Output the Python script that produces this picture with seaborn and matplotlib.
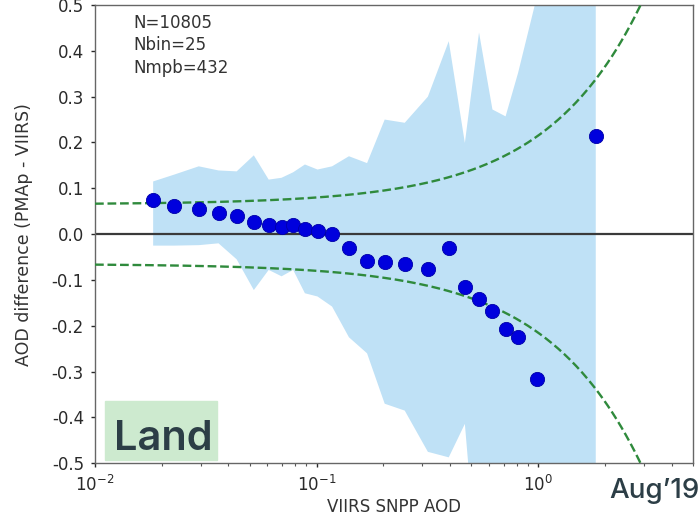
import numpy as np
import pandas as pd
import matplotlib
matplotlib.use("Agg")
import matplotlib.pyplot as plt
from matplotlib.patches import Rectangle
from matplotlib.ticker import FixedLocator, FormatStrFormatter
import seaborn as sns

# Binned AOD comparison (bin centres on VIIRS AOD)
viirs_aod = [0.0183, 0.0228, 0.0294, 0.0361, 0.0436, 0.0521, 0.0608, 0.0695,
             0.0784, 0.0886, 0.101, 0.1175, 0.140, 0.169, 0.203, 0.250,
             0.318, 0.395, 0.467, 0.541, 0.622, 0.713, 0.812, 0.989, 1.82]
aod_diff = [0.074, 0.062, 0.054, 0.047, 0.039, 0.027, 0.019, 0.016,
            0.021, 0.012, 0.007, 0.000, -0.031, -0.058, -0.060, -0.066,
            -0.077, -0.031, -0.115, -0.142, -0.167, -0.208, -0.224, -0.315, 0.215]
# spread of the differences within each bin
band_upper = [0.115, 0.130, 0.148, 0.139, 0.137, 0.172, 0.119, 0.123,
              0.135, 0.152, 0.141, 0.148, 0.170, 0.155, 0.250, 0.243,
              0.300, 0.421, 0.199, 0.440, 0.272, 0.257, 0.352, 0.52, 1.6]
band_lower = [-0.025, -0.025, -0.024, -0.020, -0.055, -0.122, -0.078, -0.092,
              -0.078, -0.129, -0.136, -0.158, -0.225, -0.260, -0.370, -0.385,
              -0.475, -0.487, -0.414, -0.78, -0.70, -0.80, -0.85, -0.95, -1.3]

n_total = 10805
n_bin = 25
n_mpb = 432

# expected-error envelope: +/-(offset + slope * AOD)
ee_offset = 0.065
ee_slope = 0.15

y_ticks = [-0.5, -0.4, -0.3, -0.2, -0.1, 0.0, 0.1, 0.2, 0.3, 0.4, 0.5]

sns.set_theme(style="ticks")
plt.rcParams['font.family'] = ['DejaVu Sans']
plt.rcParams['axes.unicode_minus'] = True

fig = plt.figure(figsize=(7.0, 5.17), dpi=100)
ax = fig.add_axes([95 / 700, 1 - 463.3 / 517, 598 / 700, (463.3 - 5.0) / 517])
ax.set_xscale('log')

ax.fill_between(viirs_aod, band_lower, band_upper, color='#bfe1f6', lw=0, zorder=1)
ax.axhline(0.0, color='#3a3a3a', lw=1.6, zorder=2)

ee_x = np.logspace(-2, np.log10(5.0), 400)
ee_up = ee_offset + ee_slope * ee_x
ee = pd.DataFrame({'x': ee_x, 'up': ee_up, 'lo': -ee_up})
for col in ('up', 'lo'):
    sns.lineplot(data=ee, x='x', y=col, color='#2f8a3c', lw=1.7,
                 linestyle='--', ax=ax, zorder=3)

sns.scatterplot(x=viirs_aod, y=aod_diff, s=105, color='#0000dd',
                edgecolor='#0000a8', linewidth=0.6, ax=ax, zorder=4)

ax.set_xlim(0.01, 5.0)
ax.set_ylim(-0.5, 0.5)
ax.yaxis.set_major_locator(FixedLocator(y_ticks))
ax.yaxis.set_major_formatter(FormatStrFormatter('%.1f'))

for side in ax.spines.values():
    side.set_visible(True)
    side.set_color('#666666')
    side.set_linewidth(1.0)
ax.tick_params(axis='both', which='major', labelsize=12, colors='#2a2a2a',
               length=3, width=1, pad=5)
ax.tick_params(axis='x', which='minor', length=2.5, width=0.8, colors='#555555')

ax.set_xlabel('VIIRS SNPP AOD', fontsize=12, color='#333333')
ax.set_ylabel('AOD difference (PMAp - VIIRS)', fontsize=12.5, color='#333333')
ax.xaxis.set_label_coords(0.5, -0.075)
ax.yaxis.set_label_coords(-0.104, 0.5)

ax.text(0.0635, 0.98, f'N={n_total}\nNbin={n_bin}\nNmpb={n_mpb}',
        transform=ax.transAxes, ha='left', va='top', fontsize=12,
        color='#333333', linespacing=1.3)

# surface-type tag and date stamp
fig.add_artist(Rectangle((105 / 700, 1 - 460 / 517), 112 / 700, 59 / 517,
                         transform=fig.transFigure, color='#cdeacf', zorder=5))
fig.text(114 / 700, 1 - 450 / 517, 'Land', ha='left', va='baseline',
         fontsize=30, fontfamily=['Inter', 'DejaVu Sans'], fontweight='semibold',
         color='#2c3e46', zorder=6)
fig.text(0.999, 1 - 498 / 517, 'Aug\u201919', ha='right', va='baseline',
         fontsize=20, fontfamily=['Inter', 'DejaVu Sans'], fontweight='medium',
         color='#2c3e46', zorder=6)

fig.savefig('out.png', dpi=100)
